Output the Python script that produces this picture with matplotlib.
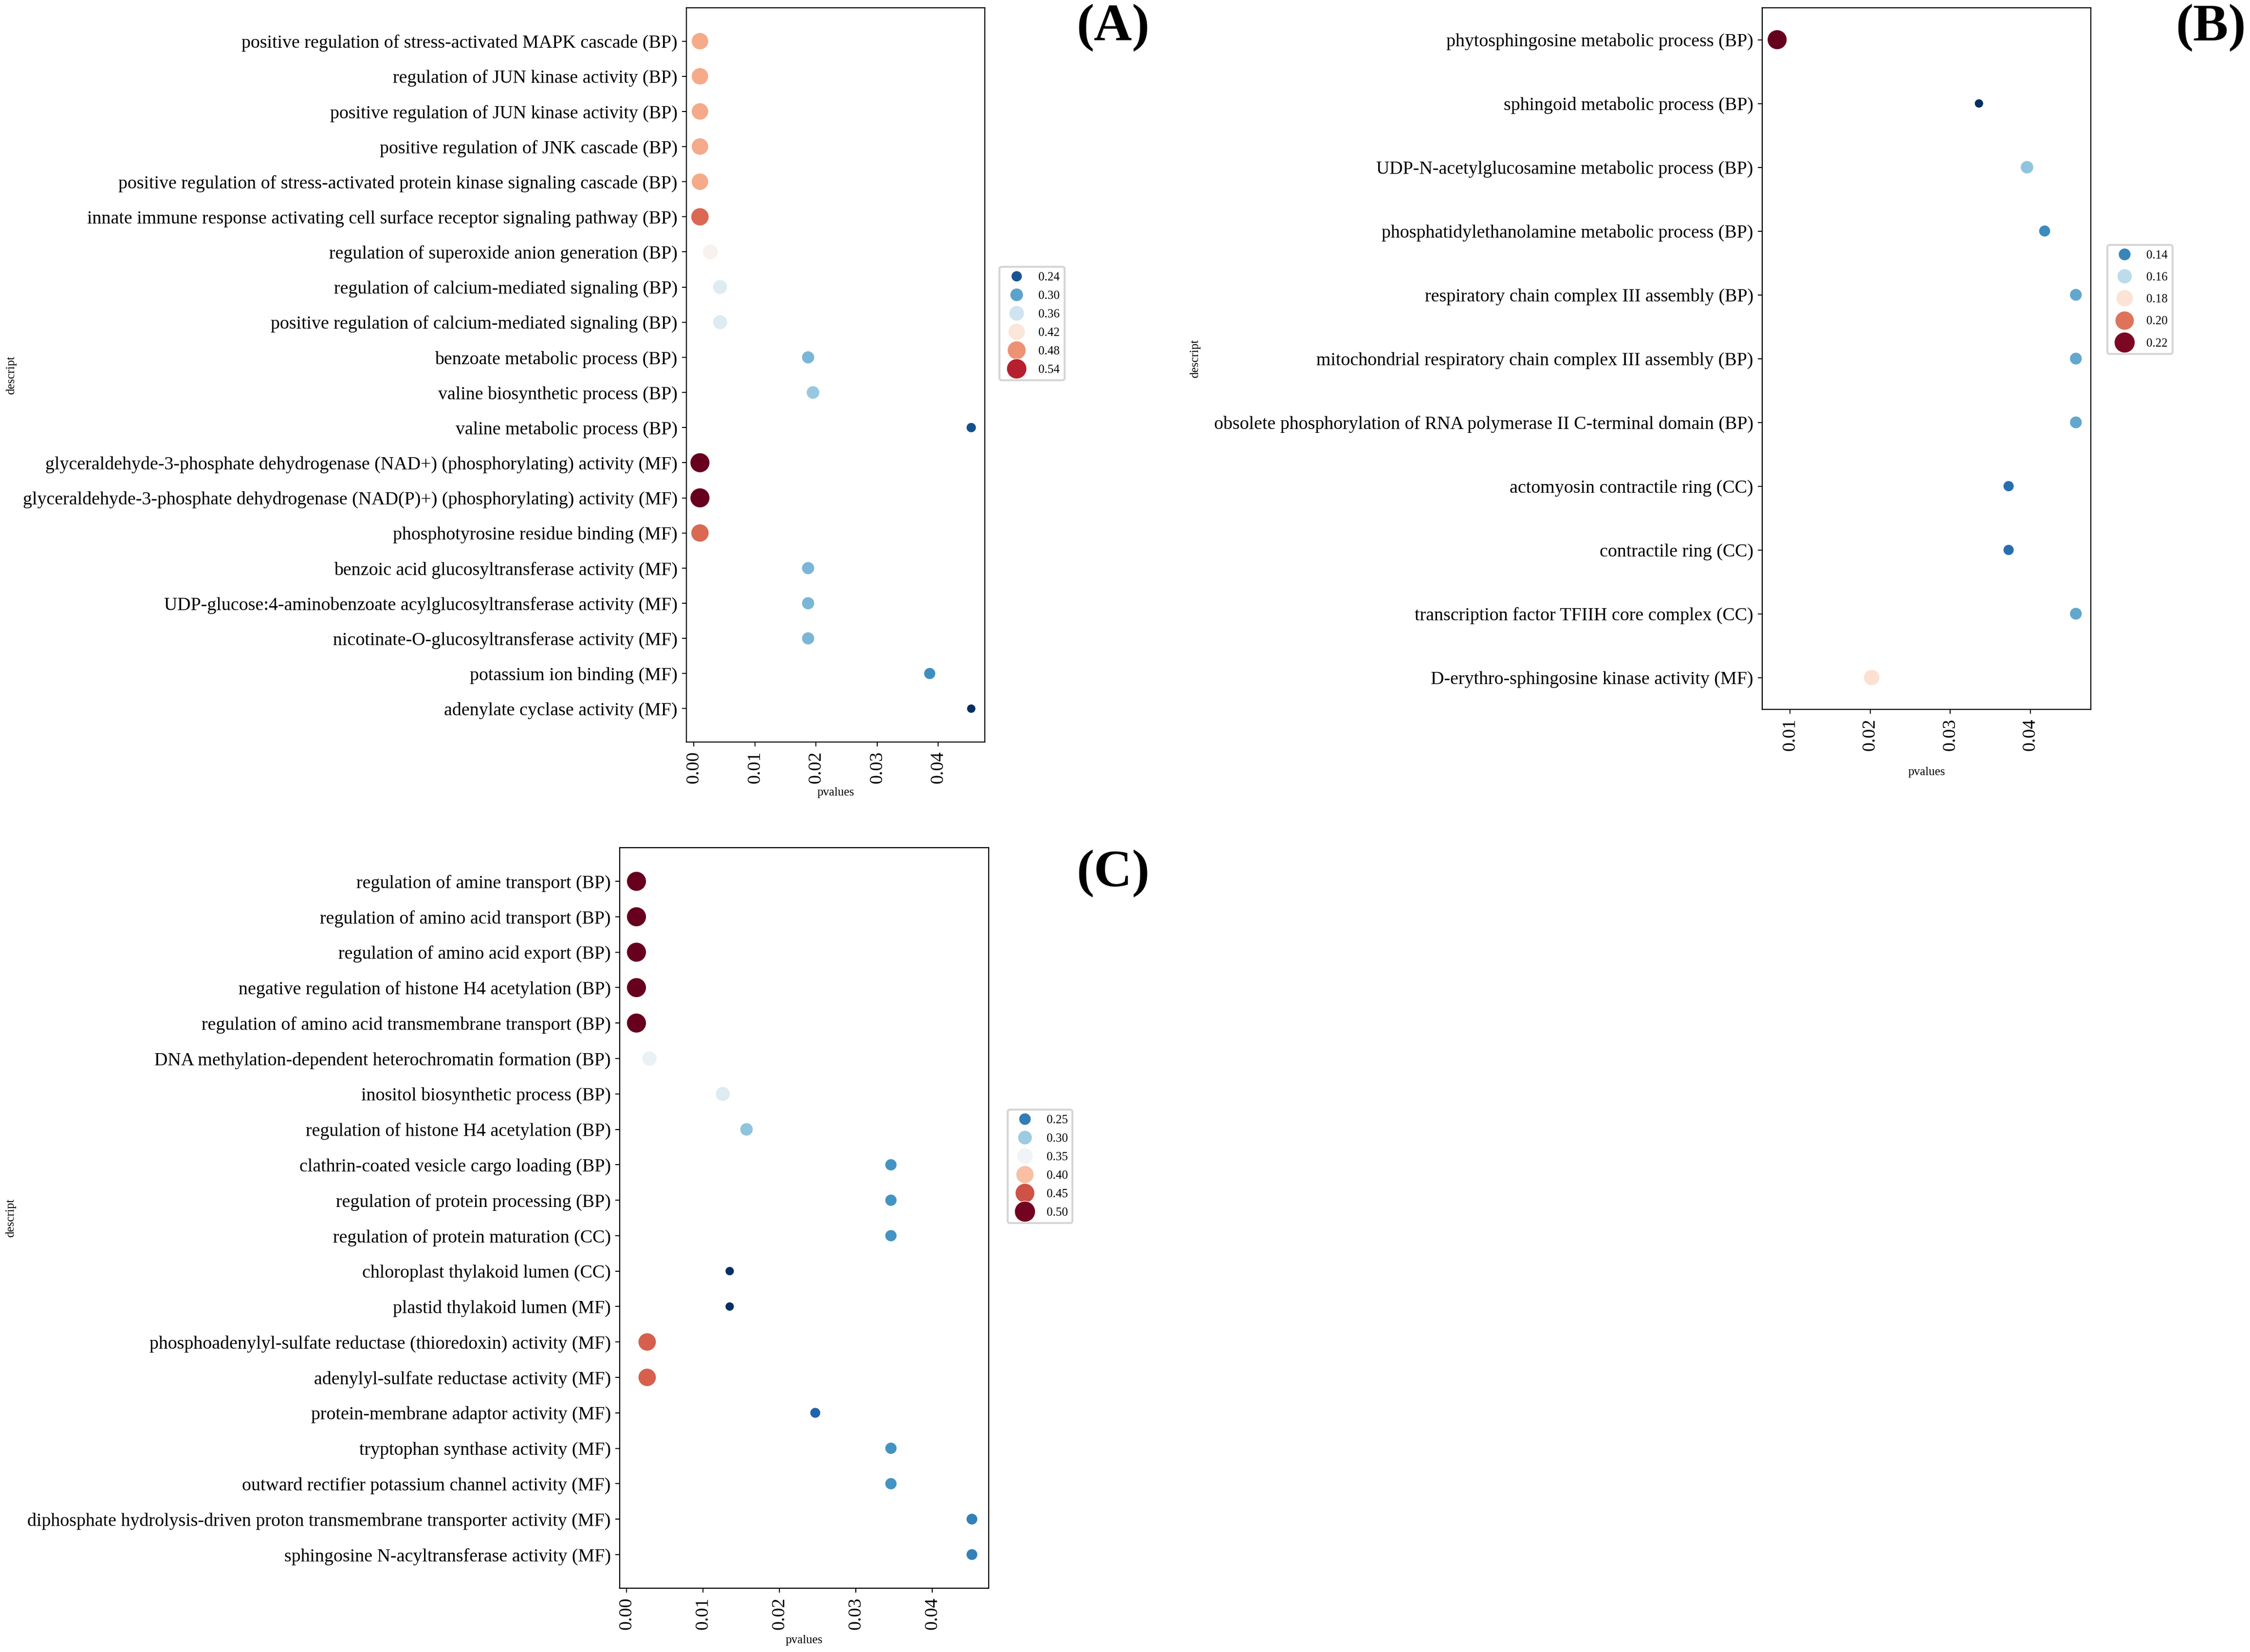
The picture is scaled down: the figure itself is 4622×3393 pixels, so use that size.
import numpy as np
import matplotlib
matplotlib.use("Agg")
import matplotlib.pyplot as plt
from matplotlib.colors import Normalize
from matplotlib.lines import Line2D

plt.rcParams['font.family'] = ['Liberation Serif', 'DejaVu Serif']

# ---------------- data ----------------
labels_A = [
    "positive regulation of stress-activated MAPK cascade (BP)",
    "regulation of JUN kinase activity (BP)",
    "positive regulation of JUN kinase activity (BP)",
    "positive regulation of JNK cascade (BP)",
    "positive regulation of stress-activated protein kinase signaling cascade (BP)",
    "innate immune response activating cell surface receptor signaling pathway (BP)",
    "regulation of superoxide anion generation (BP)",
    "regulation of calcium-mediated signaling (BP)",
    "positive regulation of calcium-mediated signaling (BP)",
    "benzoate metabolic process (BP)",
    "valine biosynthetic process (BP)",
    "valine metabolic process (BP)",
    "glyceraldehyde-3-phosphate dehydrogenase (NAD+) (phosphorylating) activity (MF)",
    "glyceraldehyde-3-phosphate dehydrogenase (NAD(P)+) (phosphorylating) activity (MF)",
    "phosphotyrosine residue binding (MF)",
    "benzoic acid glucosyltransferase activity (MF)",
    "UDP-glucose:4-aminobenzoate acylglucosyltransferase activity (MF)",
    "nicotinate-O-glucosyltransferase activity (MF)",
    "potassium ion binding (MF)",
    "adenylate cyclase activity (MF)",
]
pvalues_A = [0.0010, 0.0010, 0.0010, 0.0010, 0.0010, 0.0010, 0.0027, 0.0043, 0.0043, 0.0187,
             0.0195, 0.0454, 0.0010, 0.0010, 0.0010, 0.0187, 0.0187, 0.0187, 0.0386, 0.0454]
ratio_A = [0.467, 0.467, 0.467, 0.467, 0.467, 0.503, 0.405, 0.372, 0.372, 0.314,
           0.328, 0.237, 0.580, 0.580, 0.503, 0.314, 0.314, 0.314, 0.284, 0.215]
legend_A = [0.24, 0.30, 0.36, 0.42, 0.48, 0.54]

labels_B = [
    "phytosphingosine metabolic process (BP)",
    "sphingoid metabolic process (BP)",
    "UDP-N-acetylglucosamine metabolic process (BP)",
    "phosphatidylethanolamine metabolic process (BP)",
    "respiratory chain complex III assembly (BP)",
    "mitochondrial respiratory chain complex III assembly (BP)",
    "obsolete phosphorylation of RNA polymerase II C-terminal domain (BP)",
    "actomyosin contractile ring (CC)",
    "contractile ring (CC)",
    "transcription factor TFIIH core complex (CC)",
    "D-erythro-sphingosine kinase activity (MF)",
]
pvalues_B = [0.0084, 0.0336, 0.0396, 0.0418, 0.0457, 0.0457, 0.0457, 0.0373, 0.0373, 0.0457, 0.0202]
ratio_B = [0.223, 0.123, 0.153, 0.141, 0.147, 0.147, 0.147, 0.135, 0.135, 0.147, 0.181]
legend_B = [0.14, 0.16, 0.18, 0.20, 0.22]

labels_C = [
    "regulation of amine transport (BP)",
    "regulation of amino acid transport (BP)",
    "regulation of amino acid export (BP)",
    "negative regulation of histone H4 acetylation (BP)",
    "regulation of amino acid transmembrane transport (BP)",
    "DNA methylation-dependent heterochromatin formation (BP)",
    "inositol biosynthetic process (BP)",
    "regulation of histone H4 acetylation (BP)",
    "clathrin-coated vesicle cargo loading (BP)",
    "regulation of protein processing (BP)",
    "regulation of protein maturation (CC)",
    "chloroplast thylakoid lumen (CC)",
    "plastid thylakoid lumen (MF)",
    "phosphoadenylyl-sulfate reductase (thioredoxin) activity (MF)",
    "adenylyl-sulfate reductase activity (MF)",
    "protein-membrane adaptor activity (MF)",
    "tryptophan synthase activity (MF)",
    "outward rectifier potassium channel activity (MF)",
    "diphosphate hydrolysis-driven proton transmembrane transporter activity (MF)",
    "sphingosine N-acyltransferase activity (MF)",
]
pvalues_C = [0.0013, 0.0013, 0.0013, 0.0013, 0.0013, 0.0030, 0.0126, 0.0157, 0.0346, 0.0346,
             0.0346, 0.0135, 0.0135, 0.0027, 0.0027, 0.0247, 0.0346, 0.0346, 0.0452, 0.0452]
ratio_C = [0.505, 0.505, 0.505, 0.505, 0.505, 0.345, 0.335, 0.295, 0.265, 0.265,
           0.265, 0.205, 0.205, 0.445, 0.445, 0.235, 0.265, 0.265, 0.253, 0.253]
legend_C = [0.25, 0.30, 0.35, 0.40, 0.45, 0.50]

# ---------------- layout ----------------
W, H = 4622, 3393
DPI = 300
fig = plt.figure(figsize=(W / DPI, H / DPI), dpi=DPI)

def px_axes(left, top, right, bottom):
    return fig.add_axes([left / W, 1 - bottom / H, (right - left) / W, (bottom - top) / H])

S_MIN, S_MAX = 21.0, 97.0
cmap = plt.get_cmap('RdBu_r')

def panel(ax, labels, pv, ratio, leg_vals, leg_anchor, labelspacing, ylab_x, xlab_y):
    vmin, vmax = min(ratio), max(ratio)
    norm = Normalize(vmin=vmin, vmax=vmax)
    r = np.asarray(ratio)
    sizes = S_MIN + (S_MAX - S_MIN) * norm(r)
    ypos = np.arange(len(labels))
    ax.scatter(pv, ypos, c=r, cmap=cmap, norm=norm, s=sizes,
               edgecolors='white', linewidths=0.45, zorder=3)
    ax.set_yticks(ypos)
    ax.set_yticklabels(labels)
    ax.invert_yaxis()
    ax.tick_params(axis='both', labelsize=9.1, length=2.2, width=0.5, pad=2.2)
    ax.tick_params(axis='x', labelrotation=90)
    for sp in ax.spines.values():
        sp.set_linewidth(0.55)
    ax.set_xlabel('pvalues', fontsize=6)
    ax.set_ylabel('descript', fontsize=6)
    ax.xaxis.set_label_coords(0.5, xlab_y)
    ax.yaxis.set_label_coords(ylab_x, 0.5)
    handles = []
    for v in leg_vals:
        ms = np.sqrt(S_MIN + (S_MAX - S_MIN) * norm(v)) * 1.05
        handles.append(Line2D([], [], linestyle='none', marker='o', markersize=ms,
                              markerfacecolor=cmap(norm(v)), markeredgecolor='white',
                              markeredgewidth=0.3))
    ax.legend(handles, [f"{v:.2f}" for v in leg_vals], loc='upper left',
              bbox_to_anchor=leg_anchor, borderaxespad=0, fontsize=6,
              labelspacing=labelspacing, frameon=True)

axA = px_axes(1410, 16, 2023, 1524)
panel(axA, labels_A, pvalues_A, ratio_A, legend_A, (1.049, 0.647), 0.62, -2.245, -0.062)

axB = px_axes(3620, 16, 4295, 1457)
panel(axB, labels_B, pvalues_B, ratio_B, legend_B, (1.05, 0.662), 0.91, -1.71, -0.082)

axC = px_axes(1273, 1741, 2031, 3262)
panel(axC, labels_C, pvalues_C, ratio_C, legend_C, (1.051, 0.646), 0.62, -1.636, -0.063)

fs_tag = 26
fig.text(2211 / W, 1 - 8 / H, "(A)", fontsize=fs_tag, fontweight='bold', ha='left', va='top')
fig.text(4469 / W, 1 - 8 / H, "(B)", fontsize=fs_tag, fontweight='bold', ha='left', va='top')
fig.text(2211 / W, 1 - 1745 / H, "(C)", fontsize=fs_tag, fontweight='bold', ha='left', va='top')

fig.savefig('out.png', dpi=DPI)
